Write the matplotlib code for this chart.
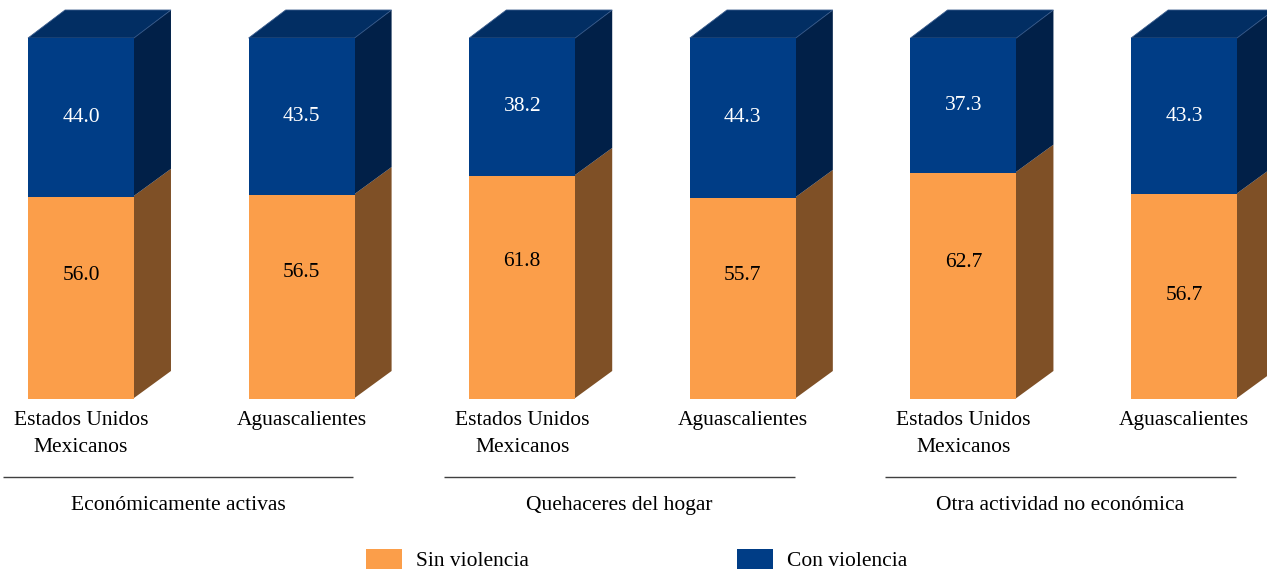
import matplotlib
matplotlib.use("Agg")
import matplotlib.pyplot as plt
from matplotlib.patches import Polygon, Rectangle

# ---- data ----
categories = ["Estados Unidos\nMexicanos", "Aguascalientes",
              "Estados Unidos\nMexicanos", "Aguascalientes",
              "Estados Unidos\nMexicanos", "Aguascalientes"]
groups = ["Económicamente activas", "Quehaceres del hogar", "Otra actividad no económica"]
sin_violencia = [56.0, 56.5, 61.8, 55.7, 62.7, 56.7]
con_violencia = [44.0, 43.5, 38.2, 44.3, 37.3, 43.3]
series_names = ["Sin violencia", "Con violencia"]

# ---- style ----
plt.rcParams['font.family'] = ['Liberation Serif', 'DejaVu Serif']
FS = 15.5
orange, brown = "#FB9E4A", "#7F5026"
blue, navy_side, navy_top = "#003D86", "#012048", "#022E63"
W = 0.48          # bar width (category units)
DX, DY = 0.168, 7.76   # 3D depth offsets
OV = 0.006        # small overlap under the front face to avoid seams
orange_label_shift = [6.2, 6.9, 7.2, 6.4, 6.4, 0.2]

fig = plt.figure(figsize=(12.67, 5.69), dpi=100)
ax = fig.add_axes([0, 0, 1, 1])
ax.set_xlim(-0.367, 5.376)
ax.set_ylim(-47.09, 110.53)
ax.axis("off")

x = list(range(len(categories)))
ax.bar(x, sin_violencia, width=W, color=orange, linewidth=0, zorder=2)
ax.bar(x, con_violencia, width=W, bottom=sin_violencia, color=blue, linewidth=0, zorder=2)

for i in x:
    xl, xr = i - W / 2, i + W / 2
    s = sin_violencia[i]
    t = s + con_violencia[i]
    # side faces
    ax.add_patch(Polygon([(xr - OV, 0), (xr + DX, DY), (xr + DX, s + DY), (xr - OV, s)],
                         closed=True, facecolor=brown, edgecolor="none", zorder=1))
    ax.add_patch(Polygon([(xr - OV, s), (xr + DX, s + DY), (xr + DX, t + DY), (xr - OV, t)],
                         closed=True, facecolor=navy_side, edgecolor="none", zorder=1))
    # top face
    ax.add_patch(Polygon([(xl, t), (xl + DX, t + DY), (xr + DX, t + DY), (xr, t)],
                         closed=True, facecolor=navy_top, edgecolor="#3A5C8C",
                         linewidth=0.6, zorder=1.5))
    # value labels
    ax.text(i, s / 2 + orange_label_shift[i], f"{s:.1f}", ha="center", va="center",
            fontsize=FS, color="black", zorder=3)
    ax.text(i, s + con_violencia[i] / 2, f"{con_violencia[i]:.1f}", ha="center",
            va="center", fontsize=FS, color="white", zorder=3)
    # category labels
    ax.text(i, -3.2, categories[i], ha="center", va="top", fontsize=FS,
            linespacing=1.6, color="black")

# group separators and labels
for g, name in enumerate(groups):
    start = 2 * g
    ax.plot([start - 0.355, start + 1.235], [-21.6, -21.6], color="#404040",
            linewidth=1.0, solid_capstyle="butt", clip_on=False)
    ax.text(start + 0.44, -29.6, name, ha="center", va="center", fontsize=FS)

# legend
leg_items = [(series_names[0], orange, 1.292), (series_names[1], blue, 2.974)]
for name, col, lx in leg_items:
    ax.add_patch(Rectangle((lx, -47.6), 0.163, 6.1, facecolor=col, edgecolor="none",
                           clip_on=False))
    ax.text(lx + 0.227, -45.0, name, ha="left", va="center", fontsize=FS)

fig.savefig("out.png", dpi=100)
